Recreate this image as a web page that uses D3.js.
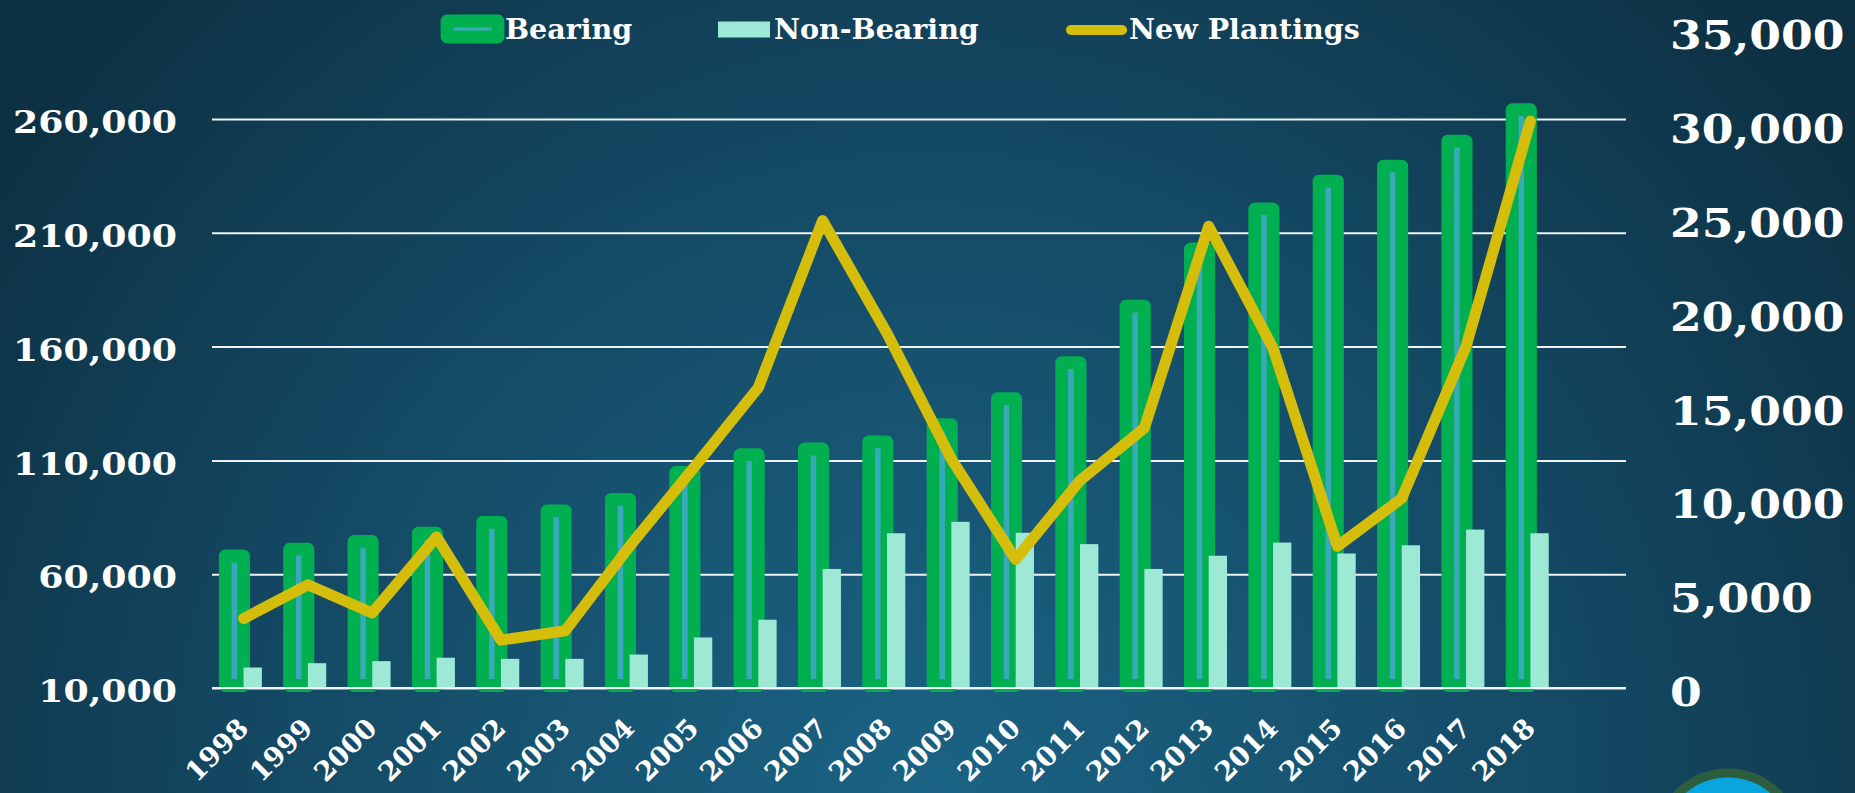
<!DOCTYPE html>
<html>
<head>
<meta charset="utf-8">
<script src="https://cdn.jsdelivr.net/npm/d3@7"></script>
<style>
  html, body { margin: 0; padding: 0; overflow: hidden; background: #0f3a4e; }
  svg { display: block; }
</style>
</head>
<body>
<svg id="chart" width="1855" height="793"></svg>
<script>
// data
const years = ['1998','1999','2000','2001','2002','2003','2004','2005','2006','2007','2008',
  '2009','2010','2011','2012','2013','2014','2015','2016','2017','2018'];
const bearing = [68000, 71000, 74400, 78000, 82800, 87800, 92900, 104700, 112500, 115000, 118100,
  125700, 137100, 153000, 177800, 202900, 220500, 232700, 239300, 250300, 264100];
const nonBearing = [19000, 20900, 21800, 23300, 22800, 22800, 24700, 32200, 40000, 62300, 78000,
  83000, 78200, 73200, 62300, 68100, 73900, 69100, 72700, 79600, 78000];
const newPlantings = [3700, 5500, 4000, 8050, 2550, 3050, 7550, 11750, 16000, 24900, 18900,
  12200, 6850, 11050, 13850, 24600, 18100, 7550, 10100, 18200, 30200];
const leftTicks = [10000, 60000, 110000, 160000, 210000, 260000];
const rightTicks = [0, 5000, 10000, 15000, 20000, 25000, 30000, 35000];
const seriesNames = ['Bearing', 'Non-Bearing', 'New Plantings'];

const rows = years.map((y, i) => ({ year: y, bearing: bearing[i], nonBearing: nonBearing[i], planted: newPlantings[i] }));

const svg = d3.select('#chart');
const W = 1855, H = 793;
const plotL = 212, plotR = 1626;

// background
const defs = svg.append('defs');
const bg = defs.append('radialGradient').attr('id', 'bg')
  .attr('gradientUnits', 'userSpaceOnUse')
  .attr('cx', 930).attr('cy', 800).attr('r', 1150);
bg.append('stop').attr('offset', 0).attr('stop-color', '#1b6384');
bg.append('stop').attr('offset', 0.55).attr('stop-color', '#144a65');
bg.append('stop').attr('offset', 1).attr('stop-color', '#0d3042');
svg.append('rect').attr('width', W).attr('height', H).attr('fill', 'url(#bg)');

// scales
const x = d3.scaleBand().domain(years).range([211.4, 1562.6]).padding(0);
const xs = d3.scaleBand().domain(['bearing', 'nonBearing']).range([-18.3, 18.3]);
const yL = d3.scaleLinear().domain([10000, 260000]).range([688, 119]);
const yR = d3.scaleLinear().domain([0, 35000]).range([688, 31]);
const cx = d => x(d.year) + x.bandwidth() / 2;

// grid
svg.append('g')
  .attr('class', 'grid')
  .attr('transform', `translate(${plotL},0)`)
  .call(d3.axisLeft(yL).tickValues(leftTicks).tickSize(-(plotR - plotL)).tickFormat(''))
  .call(g => g.select('.domain').remove())
  .call(g => g.selectAll('line').attr('stroke', '#eef3f5').attr('stroke-width', 2));

// left axis labels
svg.append('g')
  .attr('transform', 'translate(177,0)')
  .call(d3.axisLeft(yL).tickValues(leftTicks).tickSize(0).tickPadding(0).tickFormat(d3.format(',')))
  .call(g => g.select('.domain').remove())
  .call(g => g.selectAll('text')
    .attr('fill', '#fff')
    .attr('font-family', 'DejaVu Serif')
    .attr('font-weight', 'bold')
    .attr('font-size', 31)
    .attr('dy', '0.44em')
    .attr('transform', 'scale(1.17,1)'));

// right axis labels
svg.append('g')
  .attr('transform', 'translate(1670,0)')
  .call(d3.axisRight(yR).tickValues(rightTicks).tickSize(0).tickPadding(0).tickFormat(d3.format(',')))
  .call(g => g.select('.domain').remove())
  .call(g => g.selectAll('text')
    .attr('fill', '#fff')
    .attr('font-family', 'DejaVu Serif')
    .attr('font-weight', 'bold')
    .attr('font-size', 40)
    .attr('dy', '0.44em')
    .attr('transform', 'scale(1.14,1)'));

// x axis labels
svg.append('g')
  .selectAll('text')
  .data(years)
  .join('text')
  .attr('transform', d => `translate(${x(d) + x.bandwidth() / 2 + 6.4},730) rotate(-45)`)
  .attr('text-anchor', 'end')
  .attr('fill', '#fff')
  .attr('font-family', 'DejaVu Serif')
  .attr('font-weight', 'bold')
  .attr('font-size', 27)
  .text(d => d);

// bars
const bars = svg.append('g').attr('class', 'bars');
bars.selectAll('rect.bearing')
  .data(rows)
  .join('rect')
  .attr('class', 'bearing')
  .attr('x', d => x(d.year) + x.bandwidth() / 2 + xs('bearing'))
  .attr('width', xs.bandwidth())
  .attr('y', d => yL(d.bearing))
  .attr('height', d => yL(10000) - 2.5 - yL(d.bearing))
  .attr('fill', '#3aaabb')
  .attr('stroke', '#00b050')
  .attr('stroke-width', 12.8)
  .attr('stroke-linejoin', 'round');

bars.selectAll('rect.nonbearing')
  .data(rows)
  .join('rect')
  .attr('class', 'nonbearing')
  .attr('x', d => x(d.year) + x.bandwidth() / 2 + xs('nonBearing'))
  .attr('width', xs.bandwidth())
  .attr('y', d => yL(d.nonBearing))
  .attr('height', d => yL(10000) - yL(d.nonBearing))
  .attr('fill', '#9de9d6');

// baseline over the bars
svg.append('line')
  .attr('x1', plotL).attr('x2', plotR)
  .attr('y1', yL(10000)).attr('y2', yL(10000))
  .attr('stroke', '#eef3f5').attr('stroke-width', 2);

// new plantings line
svg.append('path')
  .datum(rows)
  .attr('fill', 'none')
  .attr('stroke', '#d5be0b')
  .attr('stroke-width', 11)
  .attr('stroke-linejoin', 'round')
  .attr('stroke-linecap', 'round')
  .attr('d', d3.line().x(cx).y(d => yR(d.planted)));

// legend
const legend = svg.append('g').attr('class', 'legend');
const legendX = [472.5, 744, 1096.5];
const textX = [505, 774, 1129];
legend.append('rect')
  .attr('x', legendX[0] - 25.5).attr('y', 21).attr('width', 51).attr('height', 16)
  .attr('fill', '#3aaabb').attr('stroke', '#00b050').attr('stroke-width', 12.8)
  .attr('stroke-linejoin', 'round');
legend.append('rect')
  .attr('x', legendX[1] - 26).attr('y', 21.5).attr('width', 52).attr('height', 16)
  .attr('fill', '#9de9d6');
legend.append('line')
  .attr('x1', legendX[2] - 25.5).attr('x2', legendX[2] + 25.5)
  .attr('y1', 30).attr('y2', 30)
  .attr('stroke', '#d5be0b').attr('stroke-width', 10).attr('stroke-linecap', 'round');
legend.selectAll('text')
  .data(seriesNames)
  .join('text')
  .attr('x', (d, i) => textX[i])
  .attr('y', 39)
  .attr('fill', '#fff')
  .attr('font-family', 'DejaVu Serif')
  .attr('font-weight', 'bold')
  .attr('font-size', 28.5)
  .text(d => d);

// logo circle peeking in at the bottom right
svg.append('circle')
  .attr('cx', 1728).attr('cy', 843).attr('r', 70)
  .attr('fill', '#0aa5dc').attr('stroke', '#2b5d3e').attr('stroke-width', 9);
</script>
</body>
</html>
